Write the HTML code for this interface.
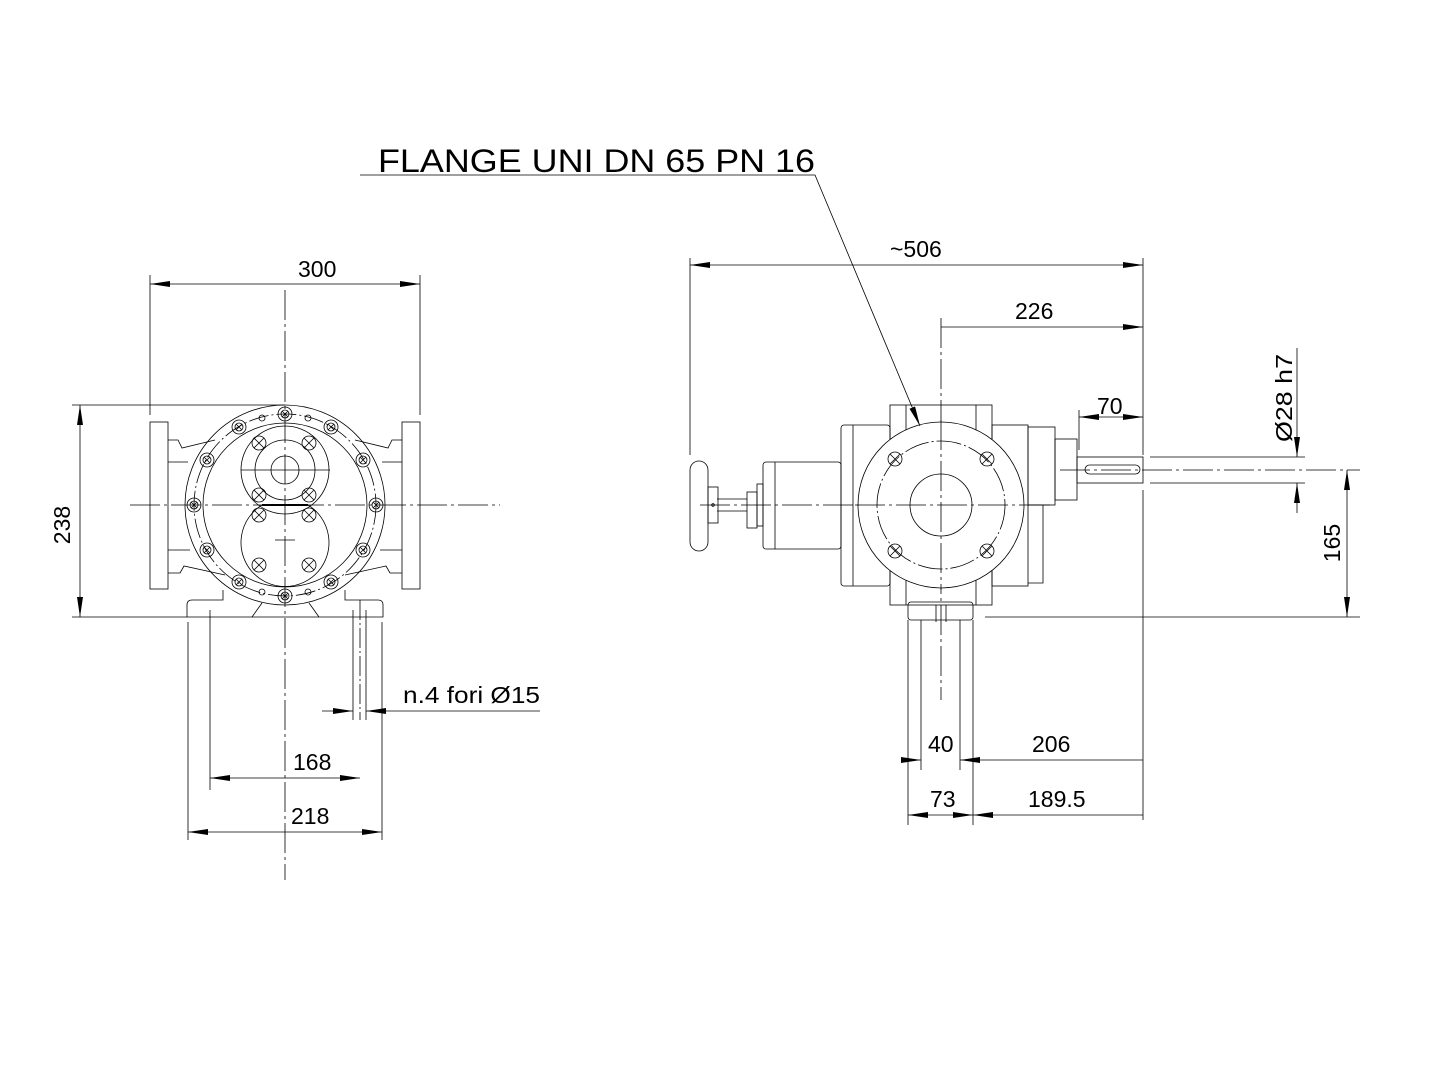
<!DOCTYPE html>
<html><head><meta charset="utf-8"><style>html,body{margin:0;padding:0;background:#fff}svg{display:block}</style></head>
<body>
<svg width="1445" height="1067" viewBox="0 0 1445 1067" xmlns="http://www.w3.org/2000/svg" font-family="Liberation Sans, sans-serif" fill="none" stroke="#000" stroke-width="1">
<defs>
<marker id="a" viewBox="0 0 20 6" refX="20" refY="3" markerWidth="20" markerHeight="6" orient="auto-start-reverse" markerUnits="userSpaceOnUse"><path d="M0,0 L20,3 L0,6z" fill="#000" stroke="none"/></marker>
<g id="bx"><circle r="7"/><path d="M-5,-5 L5,5 M-5,5 L5,-5"/></g>
<g id="bo"><circle r="7"/><circle r="4"/><path d="M-3,-3 L3,3 M-3,3 L3,-3"/></g>
</defs>
<g stroke-width="0.8">
<!-- LEFT VIEW centerlines -->
<path d="M285,290 V880 M130,505 H500" stroke-dasharray="30,4,3,4"/>
<!-- flanges -->
<rect x="150" y="422" width="18" height="167"/>
<rect x="402" y="422" width="18" height="167"/>
<path d="M168,440 H178 L182,448 L215,440 M168,462 H188 M168,550 H190 M168,573 H180 L184,566 L225,575"/>
<path d="M402,440 H392 L388,448 L355,440 M402,462 H382 M402,550 H380 M402,573 H390 L386,566 L345,575"/>
<circle cx="285" cy="505" r="100"/>
<circle cx="285" cy="505" r="91" stroke-dasharray="20,3,2,3"/>
<circle cx="285" cy="505" r="82"/>
<circle cx="285" cy="470" r="44"/>
<circle cx="285" cy="470" r="30"/>
<circle cx="285" cy="470" r="14"/>
<path d="M241,470 H330"/>
<path d="M262,505 A44,44 0 1 0 308,505"/>
<path d="M262,505 H308" stroke-width="2"/>
<path d="M275,540 H295"/>
<use href="#bx" x="259" y="443"/><use href="#bx" x="309" y="443"/>
<use href="#bx" x="259" y="495"/><use href="#bx" x="309" y="495"/>
<use href="#bx" x="259" y="515"/><use href="#bx" x="309" y="515"/>
<use href="#bx" x="259" y="565"/><use href="#bx" x="309" y="565"/>
<use href="#bo" x="285" y="414"/><use href="#bo" x="285" y="596"/>
<use href="#bo" x="194" y="505"/><use href="#bo" x="376" y="505"/>
<use href="#bo" x="239" y="427"/><use href="#bo" x="331" y="427"/>
<use href="#bo" x="207" y="460"/><use href="#bo" x="363" y="460"/>
<use href="#bo" x="207" y="550"/><use href="#bo" x="363" y="550"/>
<use href="#bo" x="239" y="582"/><use href="#bo" x="331" y="582"/>
<circle cx="262" cy="418" r="3"/><circle cx="308" cy="418" r="3"/>
<circle cx="262" cy="592" r="3"/><circle cx="308" cy="592" r="3"/>
<!-- base -->
<path d="M223,590 V600 H192 Q187,600 187,605 V617 H383 V605 Q383,600 378,600 H345 V590"/>
<path d="M252,617 L262,603 M319,617 L309,603"/>
<!-- left dims -->
<path d="M150,415 V275 M420,415 V275"/>
<path d="M150,284 H420" marker-start="url(#a)" marker-end="url(#a)"/>
<path d="M72,405 H285 M72,617 H187"/>
<path d="M80,405 V617" marker-start="url(#a)" marker-end="url(#a)"/>
<path d="M188,622 V840 M210,610 V790 M353,610 V720 M366,610 V720 M382,622 V840"/>
<path d="M360,600 V720" stroke-dasharray="20,3,2,3"/>
<path d="M210,778 H360" marker-start="url(#a)" marker-end="url(#a)"/>
<path d="M188,832 H382" marker-start="url(#a)" marker-end="url(#a)"/>
<path d="M322,711 H353" marker-end="url(#a)"/>
<path d="M540,711 H366" marker-end="url(#a)"/>

<!-- RIGHT VIEW -->
<path d="M941,318 V700 M700,505 H1050 M1060,470 H1360" stroke-dasharray="30,4,3,4"/>
<rect x="890" y="405" width="102" height="200"/>
<path d="M906,405 V605 M976,405 V605"/>
<rect x="841" y="425" width="49" height="161" rx="3"/>
<path d="M853,425 V586"/>
<rect x="992" y="425" width="36" height="161"/>
<path d="M1028,505 H1043 V583 H1028"/>
<rect x="1028" y="427" width="27" height="78"/>
<rect x="1055" y="439" width="22" height="61"/>
<rect x="1077" y="457" width="66" height="26"/>
<rect x="1085" y="465" width="55" height="9" rx="4.5"/>
<circle cx="941" cy="505" r="83" fill="#fff"/>
<circle cx="941" cy="505" r="64" stroke-dasharray="25,3,2,3"/>
<circle cx="941" cy="505" r="31"/>
<path d="M941,420 V590 M855,505 H1030" stroke-dasharray="30,4,3,4"/>
<use href="#bx" x="895" y="459"/><use href="#bx" x="987" y="459"/>
<use href="#bx" x="895" y="551"/><use href="#bx" x="987" y="551"/>
<rect x="763" y="462" width="78" height="87" rx="3"/>
<path d="M775,462 V549"/>
<rect x="757" y="484" width="6" height="42"/>
<rect x="747" y="492" width="10" height="36"/>
<path d="M717,499 H747 M717,511 H747"/>
<rect x="708" y="487" width="10" height="36"/>
<rect x="690" y="461" width="18" height="90" rx="9"/>
<circle cx="713" cy="505" r="1.3"/>
<rect x="908" y="602" width="65" height="18" rx="3"/>
<path d="M936,605 V622 M946,605 V622"/>
<!-- right dims -->
<path d="M690,455 V258 M1143,455 V258 M1143,490 V820"/>
<path d="M690,265 H1143" marker-start="url(#a)" marker-end="url(#a)"/>
<path d="M941,327 H1143" marker-end="url(#a)"/>
<path d="M1079,450 V410"/>
<path d="M1079,417 H1143" marker-start="url(#a)" marker-end="url(#a)"/>
<path d="M1150,457 H1305 M1150,483 H1305"/>
<path d="M1297,348 V457" marker-end="url(#a)"/>
<path d="M1297,513 V483" marker-end="url(#a)"/>
<path d="M985,617 H1360"/>
<path d="M1347,470 V617" marker-start="url(#a)" marker-end="url(#a)"/>
<path d="M908,620 V825 M921,620 V770 M960,620 V770 M973,620 V825"/>
<path d="M903,760 H921" marker-end="url(#a)"/>
<path d="M1143,760 H960" marker-end="url(#a)"/>
<path d="M908,815 H973" marker-start="url(#a)" marker-end="url(#a)"/>
<path d="M1143,815 H973" marker-end="url(#a)"/>
<!-- flange leader -->
<path d="M360,175 H815 L920,426" marker-end="url(#a)"/>
</g>
<g fill="#000" stroke="none" font-size="23">
<text x="378" y="172" font-size="32" textLength="437" lengthAdjust="spacingAndGlyphs">FLANGE UNI DN 65 PN 16</text>
<text x="298" y="277">300</text>
<text x="70" y="525" transform="rotate(-90 70 525)" text-anchor="middle" dx="0" dy="0">238</text>
<text x="403" y="703" textLength="137" lengthAdjust="spacingAndGlyphs">n.4 fori Ø15</text>
<text x="293" y="770">168</text>
<text x="291" y="824">218</text>
<text x="890" y="257">~506</text>
<text x="1015" y="319">226</text>
<text x="1097" y="414">70</text>
<text x="1292" y="398" transform="rotate(-90 1292 398)" text-anchor="middle" textLength="88" lengthAdjust="spacingAndGlyphs">Ø28 h7</text>
<text x="1340" y="543" transform="rotate(-90 1340 543)" text-anchor="middle">165</text>
<text x="928" y="752">40</text>
<text x="1032" y="752">206</text>
<text x="930" y="807">73</text>
<text x="1028" y="807">189.5</text>
</g>
</svg>
</body></html>
